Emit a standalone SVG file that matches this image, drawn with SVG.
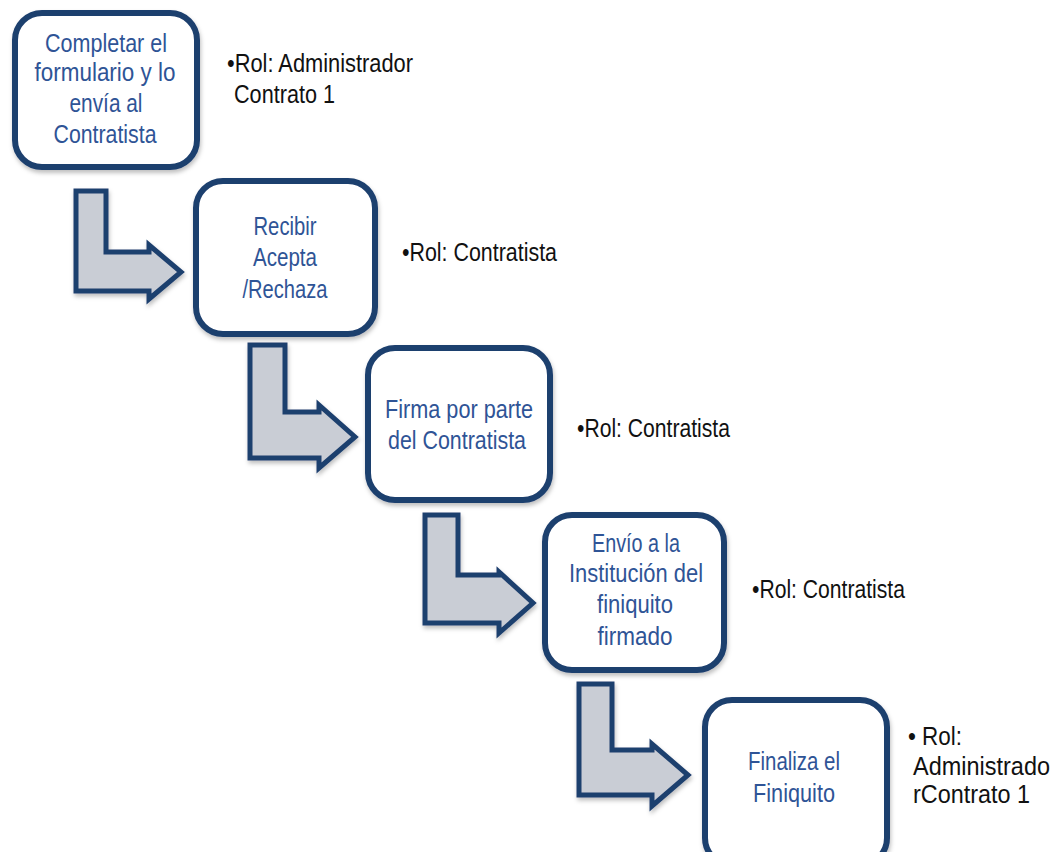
<svg xmlns="http://www.w3.org/2000/svg" width="1057" height="852" viewBox="0 0 1057 852">
<style>
.box{fill:#ffffff;stroke:#1F3F6E;stroke-width:6;filter:url(#sh)}
.arr{fill:#C9CDD5;stroke:#1F3F6E;stroke-width:5;stroke-linejoin:miter;filter:url(#sh)}
.nt{font-family:"Liberation Sans",Arial,sans-serif;font-size:26px;fill:#2F5496;text-anchor:middle}
.rt{font-family:"Liberation Sans",Arial,sans-serif;font-size:26px;fill:#111111}
.rt5{font-family:"Liberation Sans",Arial,sans-serif;font-size:25px;fill:#111111}
</style>
<defs>
<filter id="sh" x="-10%" y="-10%" width="130%" height="130%">
<feDropShadow dx="1" dy="3" stdDeviation="2" flood-color="#000" flood-opacity="0.25"/>
</filter>
</defs>
<rect width="1057" height="852" fill="#ffffff"/>
<g id="connectors">
<polygon class="arr" points="76,191 106,191 106,252 149,252 149,245 181,272 149,299 149,291 76,291"/>
<polygon class="arr" points="250,345 285,345 285,412 319,412 319,405 355,437 319,468 319,458 250,458"/>
<polygon class="arr" points="425,515 458,515 458,575 499,575 499,572 533,603 499,633 499,623 425,623"/>
<polygon class="arr" points="579,684 612,684 612,750 652,750 652,744 688,775 652,806 652,795 579,795"/>
</g>
<g id="node1">
<rect class="box" x="15" y="13" width="182" height="154" rx="27"/>
<text class="nt" x="106" y="52" textLength="122" lengthAdjust="spacingAndGlyphs">Completar el</text>
<text class="nt" x="105" y="81" textLength="141" lengthAdjust="spacingAndGlyphs">formulario y lo</text>
<text class="nt" x="106" y="112" textLength="73" lengthAdjust="spacingAndGlyphs">envía al</text>
<text class="nt" x="105" y="143" textLength="103" lengthAdjust="spacingAndGlyphs">Contratista</text>
</g>
<g id="role1">
<text class="rt" x="227" y="72" textLength="186" lengthAdjust="spacingAndGlyphs">•Rol: Administrador</text>
<text class="rt" x="234" y="103" textLength="101" lengthAdjust="spacingAndGlyphs">Contrato 1</text>
</g>
<g id="node2">
<rect class="box" x="196" y="181" width="179" height="153" rx="27"/>
<text class="nt" x="285" y="235" textLength="63" lengthAdjust="spacingAndGlyphs">Recibir</text>
<text class="nt" x="285" y="266" textLength="64" lengthAdjust="spacingAndGlyphs">Acepta</text>
<text class="nt" x="285" y="298" textLength="85" lengthAdjust="spacingAndGlyphs">/Rechaza</text>
</g>
<g id="role2">
<text class="rt" x="402" y="261" textLength="155" lengthAdjust="spacingAndGlyphs">•Rol: Contratista</text>
</g>
<g id="node3">
<rect class="box" x="368" y="348" width="182" height="152" rx="27"/>
<text class="nt" x="459" y="418" textLength="148" lengthAdjust="spacingAndGlyphs">Firma por parte</text>
<text class="nt" x="457" y="449" textLength="138" lengthAdjust="spacingAndGlyphs">del Contratista</text>
</g>
<g id="role3">
<text class="rt" x="577" y="437" textLength="153" lengthAdjust="spacingAndGlyphs">•Rol: Contratista</text>
</g>
<g id="node4">
<rect class="box" x="545" y="515" width="179" height="155" rx="27"/>
<text class="nt" x="636" y="552" textLength="88" lengthAdjust="spacingAndGlyphs">Envío a la</text>
<text class="nt" x="636" y="582" textLength="134" lengthAdjust="spacingAndGlyphs">Institución del</text>
<text class="nt" x="635" y="613" textLength="76" lengthAdjust="spacingAndGlyphs">finiquito</text>
<text class="nt" x="635" y="645" textLength="75" lengthAdjust="spacingAndGlyphs">firmado</text>
</g>
<g id="role4">
<text class="rt" x="752" y="598" textLength="153" lengthAdjust="spacingAndGlyphs">•Rol: Contratista</text>
</g>
<g id="node5">
<rect class="box" x="705" y="700" width="182" height="165" rx="27"/>
<text class="nt" x="794" y="770" textLength="92" lengthAdjust="spacingAndGlyphs">Finaliza el</text>
<text class="nt" x="794" y="802" textLength="82" lengthAdjust="spacingAndGlyphs">Finiquito</text>
</g>
<g id="role5">
<text class="rt5" x="908" y="745" textLength="54" lengthAdjust="spacingAndGlyphs">• Rol:</text>
<text class="rt5" x="913" y="775" textLength="137" lengthAdjust="spacingAndGlyphs">Administrado</text>
<text class="rt5" x="913" y="803" textLength="117" lengthAdjust="spacingAndGlyphs">rContrato 1</text>
</g>
</svg>
